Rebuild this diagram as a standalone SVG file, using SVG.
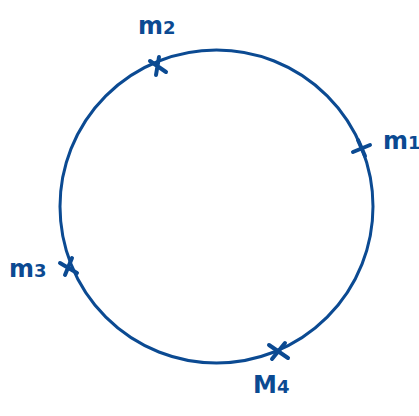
<svg xmlns="http://www.w3.org/2000/svg" width="419" height="416" viewBox="0 0 419 416">
<style>
.c{fill:none;stroke:#0b4a92;stroke-width:3;stroke-linecap:round}
.x{fill:none;stroke:#0b4a92;stroke-width:4;stroke-linecap:round}
.t{font-family:"DejaVu Sans",sans-serif;font-weight:bold;fill:#0b4a92;font-size:24px}
.s{font-size:18px}
</style>
<rect width="419" height="416" fill="#fff"/>
<g id="connectors">
<circle class="c" cx="216.5" cy="206.5" r="156.5"/>
</g>
<g id="m2">
<path class="x" d="M150 61 L166 72 M159 57 L156 75"/>
<text class="t" x="138" y="34">m<tspan class="s">2</tspan></text>
</g>
<g id="m1">
<path class="x" d="M353 152 L370 145 M358 140 L365 156"/>
<text class="t" x="383" y="149">m<tspan class="s">1</tspan></text>
</g>
<g id="m3">
<path class="x" d="M60 263 L77 273 M65 275 L72 258"/>
<text class="t" x="9" y="277">m<tspan class="s">3</tspan></text>
</g>
<g id="m4">
<path class="x" d="M269 345 L288 358 M272 359 L285 343"/>
<text class="t" x="253" y="393">M<tspan class="s">4</tspan></text>
</g>
</svg>
